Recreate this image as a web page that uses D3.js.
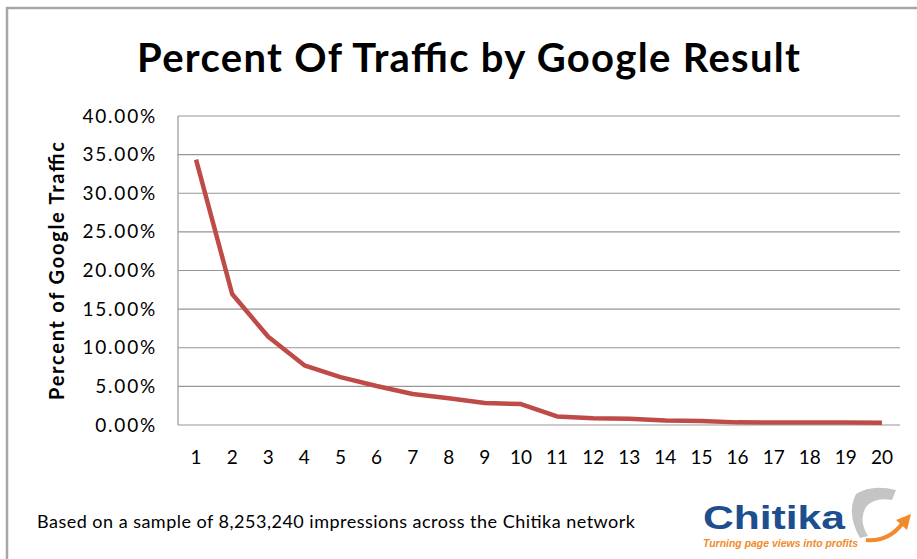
<!DOCTYPE html>
<html>
<head>
<meta charset="utf-8">
<script src="https://cdn.jsdelivr.net/npm/d3@7"></script>
<style>
  body { margin: 0; background: #fff; }
  svg { display: block; font-family: Lato, "Open Sans", sans-serif; }
</style>
</head>
<body>
<div id="chart"></div>
<script>
// chart data
var positions = ["1","2","3","4","5","6","7","8","9","10","11","12","13","14","15","16","17","18","19","20"];
var traffic = [34.35, 16.96, 11.42, 7.73, 6.19, 5.05, 4.02, 3.47, 2.85, 2.71, 1.11, 0.87, 0.81, 0.57, 0.51, 0.34, 0.32, 0.32, 0.31, 0.30];
var yTicks = [0, 5, 10, 15, 20, 25, 30, 35, 40];

var svgWidth = 917;
var svgHeight = 559;

var margin = { top: 116, right: 17, bottom: 134, left: 178 };
var width = svgWidth - margin.left - margin.right;
var height = svgHeight - margin.top - margin.bottom;

var svg = d3.select("#chart")
  .append("svg")
  .attr("width", svgWidth)
  .attr("height", svgHeight);

// outer frame (runs off the right and bottom)
svg.append("path")
  .attr("d", "M7,565 L7,8 L925,8")
  .attr("fill", "none")
  .attr("stroke", "#a6a6a6")
  .attr("stroke-width", 2.5);

svg.append("text")
  .attr("x", 137)
  .attr("y", 72)
  .attr("font-size", 40)
  .attr("font-weight", "bold")
  .attr("textLength", 663)
  .attr("lengthAdjust", "spacing")
  .attr("fill", "#000")
  .text("Percent Of Traffic by Google Result");

var g = svg.append("g")
  .attr("transform", `translate(${margin.left},${margin.top})`);

var xScale = d3.scaleBand()
  .domain(positions)
  .range([0, width]);

var yScale = d3.scaleLinear()
  .domain([0, 40])
  .range([height, 0]);

// gridlines
g.append("g")
  .selectAll("line")
  .data(yTicks)
  .enter()
  .append("line")
  .attr("x1", 0)
  .attr("x2", width)
  .attr("y1", d => yScale(d))
  .attr("y2", d => yScale(d))
  .attr("stroke", "#969696")
  .attr("stroke-width", 1.2);

g.append("line")
  .attr("x1", 0).attr("x2", 0)
  .attr("y1", 0).attr("y2", height)
  .attr("stroke", "#969696")
  .attr("stroke-width", 1.2);

var yAxis = d3.axisLeft(yScale)
  .tickValues(yTicks)
  .tickSize(0)
  .tickPadding(21)
  .tickFormat(d => d.toFixed(2) + "%");

g.append("g")
  .attr("class", "yAxis")
  .call(yAxis)
  .call(s => s.select(".domain").remove())
  .selectAll("text")
  .attr("font-family", "Lato, sans-serif")
  .attr("font-size", 19)
  .attr("letter-spacing", 1.8)
  .attr("fill", "#000");

var xAxis = d3.axisBottom(xScale).tickSize(0).tickPadding(26);

g.append("g")
  .attr("class", "xAxis")
  .attr("transform", `translate(0,${height})`)
  .call(xAxis)
  .call(s => s.select(".domain").remove())
  .selectAll("text")
  .attr("font-family", "Lato, sans-serif")
  .attr("font-size", 19)
  .attr("fill", "#000");

var line = d3.line()
  .x((d, i) => xScale(positions[i]) + xScale.bandwidth() / 2)
  .y(d => yScale(d));

g.append("path")
  .datum(traffic)
  .attr("d", line)
  .attr("fill", "none")
  .attr("stroke", "#be4b48")
  .attr("stroke-width", 4.5)
  .attr("stroke-linejoin", "round");

// y axis title
svg.append("text")
  .attr("transform", "translate(64,271) rotate(-90)")
  .attr("text-anchor", "middle")
  .attr("font-size", 20)
  .attr("font-weight", "bold")
  .attr("textLength", 258)
  .attr("lengthAdjust", "spacing")
  .text("Percent of Google Traffic");

// footnote
svg.append("text")
  .attr("x", 37)
  .attr("y", 528)
  .attr("font-size", 18)
  .attr("textLength", 598)
  .attr("lengthAdjust", "spacing")
  .text("Based on a sample of 8,253,240 impressions across the Chitika network");

// Chitika logo
var logo = svg.append("g");
logo.append("text")
  .attr("x", 703)
  .attr("y", 529)
  .attr("font-family", "'Liberation Sans', Arial, sans-serif")
  .attr("font-size", 33)
  .attr("font-weight", "bold")
  .attr("textLength", 142)
  .attr("lengthAdjust", "spacingAndGlyphs")
  .attr("fill", "#1d4f8f")
  .text("Chitika");
logo.append("text")
  .attr("x", 703)
  .attr("y", 547)
  .attr("font-family", "'Liberation Sans', Arial, sans-serif")
  .attr("font-size", 10)
  .attr("font-weight", "bold")
  .attr("font-style", "italic")
  .attr("textLength", 155)
  .attr("lengthAdjust", "spacingAndGlyphs")
  .attr("fill", "#f08a2a")
  .text("Turning page views into profits");
// grey globe swoosh
logo.append("path")
  .attr("d", "M856,494 Q872,484 896,490 L892,500 Q874,497 866,507 Q858,520 868,536 L860,538 Q846,514 856,494 Z")
  .attr("fill", "#c4c4c4");
// orange arrow
logo.append("path")
  .attr("d", "M866,540 Q888,542 902,524")
  .attr("fill", "none")
  .attr("stroke", "#f08a2a")
  .attr("stroke-width", 4);
logo.append("path")
  .attr("d", "M896,520 L911,514 L907,530 Z")
  .attr("fill", "#f08a2a");
</script>
</body>
</html>
